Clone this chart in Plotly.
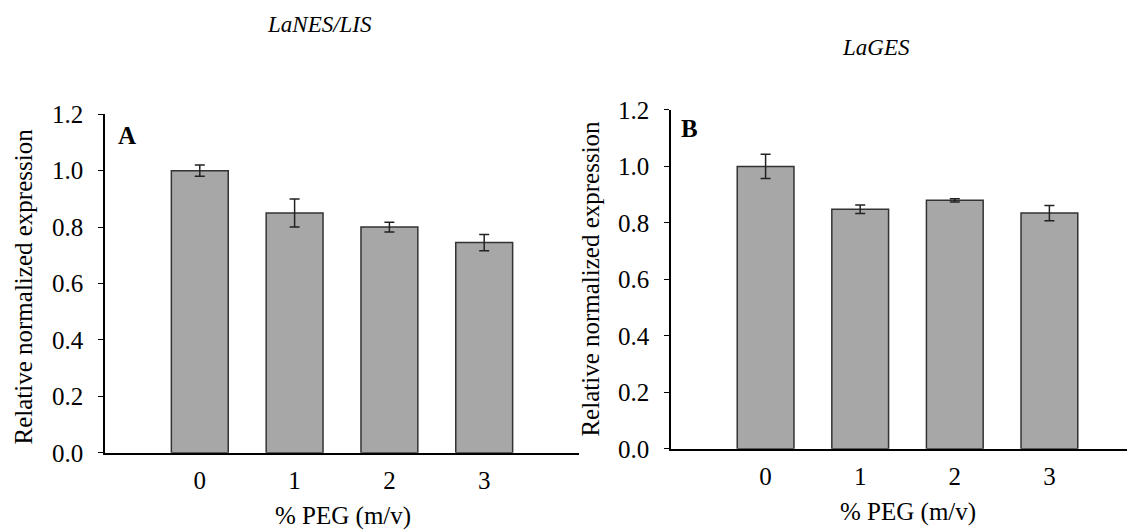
import plotly.graph_objects as go

W, H = 1135, 531

categories = [0, 1, 2, 3]
tick_labels = ["0", "1", "2", "3"]
values_A = [1.00, 0.85, 0.80, 0.745]
errors_A = [0.02, 0.05, 0.017, 0.029]
values_B = [1.00, 0.848, 0.880, 0.835]
errors_B = [0.043, 0.015, 0.006, 0.027]
y_ticks = [0.0, 0.2, 0.4, 0.6, 0.8, 1.0, 1.2]
y_tick_labels = ["0.0", "0.2", "0.4", "0.6", "0.8", "1.0", "1.2"]

FONT = "Times New Roman, Liberation Serif, Tinos, serif"
BAR = "#a7a7a7"
EDGE = "#333333"

def px(x):
    return (x - 7) / W

def py(y):
    return 1 - ((y - 21.4) / 0.953) / H

fig = go.Figure()
for vals, errs, xa, ya in [(values_A, errors_A, "x", "y"), (values_B, errors_B, "x2", "y2")]:
    fig.add_trace(go.Bar(
        x=categories, y=vals, width=0.6,
        marker=dict(color=BAR, line=dict(color=EDGE, width=1.5)),
        error_y=dict(type="data", array=errs, visible=True, color="#222222", thickness=1.5, width=5),
        xaxis=xa, yaxis=ya, showlegend=False,
    ))

xcommon = dict(tickmode="array", tickvals=categories, ticktext=tick_labels, ticks="",
               showline=True, linecolor="black", linewidth=1.5, showgrid=False, zeroline=False,
               tickfont=dict(family=FONT, size=25, color="black"), ticklabelstandoff=4)
ycommon = dict(tickmode="array", tickvals=y_ticks, ticktext=y_tick_labels, ticks="outside",
               ticklen=5, tickwidth=1.2, tickcolor="black", range=[0, 1.2],
               showline=True, linecolor="black", linewidth=1.5, showgrid=False, zeroline=False,
               tickfont=dict(family=FONT, size=25, color="black"), ticklabelstandoff=10)

fig.update_layout(
    width=W, height=H,
    margin=dict(l=0, r=0, t=0, b=0),
    paper_bgcolor="white", plot_bgcolor="white",
    font=dict(family=FONT),
    xaxis=dict(xcommon, domain=[px(104), px(578)], range=[-1, 4], anchor="y"),
    yaxis=dict(ycommon, domain=[py(455), py(115)], anchor="x"),
    xaxis2=dict(xcommon, domain=[px(670), 1.0], range=[-1, (W + 7 - 670) / 94.6 - 1], anchor="y2"),
    yaxis2=dict(ycommon, domain=[py(451), py(110.7)], anchor="x2"),
)

ann = []
def add(text, x, y, size, angle=0):
    ann.append(dict(text=text, x=px(x), y=py(y), xref="paper", yref="paper",
                    showarrow=False, xanchor="center", yanchor="middle", textangle=angle,
                    font=dict(family=FONT, size=size, color="black")))

add("<i>LaNES/LIS</i>", 318, 25, 23)
add("<i>LaGES</i>", 875, 48, 23)
add("<b>A</b>", 126, 136, 25)
add("<b>B</b>", 688, 129, 25)
add("Relative normalized expression", 23, 288, 25, -90)
add("Relative normalized expression", 590, 280, 25, -90)
add("% PEG (m/v)", 342, 518, 25)
add("% PEG (m/v)", 907, 514, 25)
fig.update_layout(annotations=ann)

fig.write_html("out.html")
